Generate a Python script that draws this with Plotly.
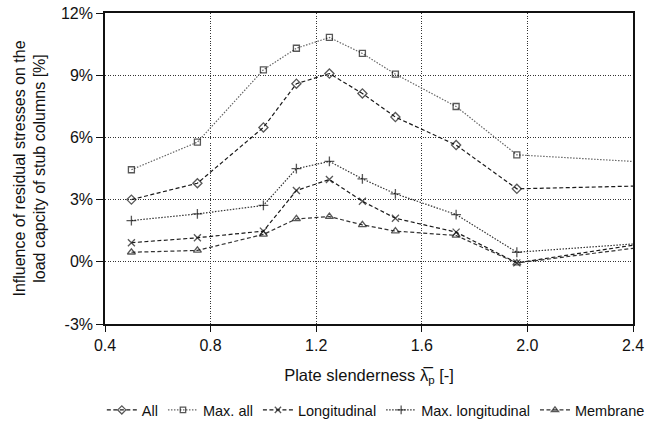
import plotly.graph_objects as go

x_vals = [0.5, 0.75, 1.0, 1.125, 1.25, 1.375, 1.5, 1.73, 1.96, 2.4]

all_vals = [3.0, 3.79, 6.48, 8.59, 9.08, 8.12, 6.98, 5.63, 3.52, 3.65]
max_all = [4.44, 5.77, 9.26, 10.30, 10.82, 10.05, 9.05, 7.49, 5.16, 4.84]
longitudinal = [0.92, 1.16, 1.48, 3.44, 3.97, 2.92, 2.10, 1.43, -0.05, 0.80]
max_longitudinal = [1.99, 2.31, 2.72, 4.49, 4.84, 4.0, 3.28, 2.28, 0.46, 0.86]
membrane = [0.46, 0.55, 1.32, 2.07, 2.18, 1.78, 1.48, 1.27, -0.06, 0.65]

y_ticks = [-3, 0, 3, 6, 9, 12]
x_ticks = [0.4, 0.8, 1.2, 1.6, 2.0, 2.4]

series = [
    ("All", all_vals, "diamond-open", "4px,2.5px", "#1a1a1a", 7),
    ("Max. all", max_all, "square-open", "1.5px,1.5px", "#666666", 6),
    ("Longitudinal", longitudinal, "x-thin-open", "4px,2.5px", "#1a1a1a", 7),
    ("Max. longitudinal", max_longitudinal, "cross-thin-open", "1.5px,1.5px", "#333333", 7),
    ("Membrane", membrane, "triangle-up-open", "4px,2.5px", "#333333", 7),
]

fig = go.Figure()
n = len(x_vals)
for name, ys, sym, dash, col, msize in series:
    sizes = [msize] * (n - 1) + [0]
    fig.add_trace(go.Scatter(
        x=x_vals, y=ys, name=name, mode="lines+markers",
        line=dict(color=col, width=1.2, dash=dash),
        marker=dict(symbol=sym, size=sizes, color="#111111",
                    line=dict(color="#111111", width=1.3)),
    ))

font_family = "Liberation Sans, Arial, sans-serif"
fig.update_layout(
    width=648, height=425,
    margin=dict(l=105, r=15, t=13, b=101, autoexpand=False),
    paper_bgcolor="white", plot_bgcolor="white",
    font=dict(family=font_family, size=16, color="#111111"),
    showlegend=True,
    legend=dict(orientation="h", x=-0.006, xanchor="left", y=-0.225, yanchor="top",
                font=dict(size=14.5), itemwidth=30, tracegroupgap=0,
                bgcolor="rgba(0,0,0,0)"),
)
fig.update_xaxes(
    range=[0.4, 2.4], tickvals=x_ticks, ticktext=[f"{v:.1f}" for v in x_ticks],
    showgrid=True, gridcolor="#333333", griddash="1px,1.5px", gridwidth=1,
    showline=True, linecolor="#111111", linewidth=1.6, mirror=True,
    ticks="outside", ticklen=6, tickcolor="#111111", zeroline=False,
    automargin=False,
    title=dict(text="Plate slenderness λ̅<sub>p</sub> [-]", standoff=16,
               font=dict(size=16.5)),
)
fig.update_yaxes(
    range=[-3, 12], tickvals=y_ticks, ticktext=[f"{v}%" for v in y_ticks],
    showgrid=True, gridcolor="#333333", griddash="1px,1.5px", gridwidth=1,
    showline=True, linecolor="#111111", linewidth=1.6, mirror=True,
    ticks="outside", ticklen=7, tickcolor="#111111", zeroline=False,
    automargin=False,
    title=dict(text="Influence of residual stresses on the<br>load capcity of stub columns [%]",
               standoff=11, font=dict(size=16)),
)

fig.write_html("out.html")
